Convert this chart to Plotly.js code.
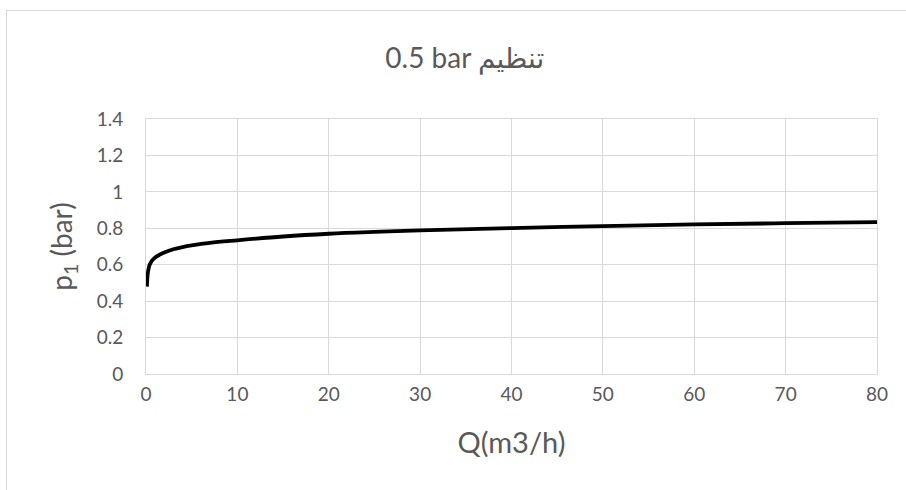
<!DOCTYPE html>
<html>
<head>
<meta charset="utf-8">
<script src="https://cdn.plot.ly/plotly-3.0.1.min.js"></script>
<style>
  html, body { margin: 0; padding: 0; background: #ffffff; }
  #frame { position: absolute; left: 6px; top: 10px; width: 1000px; height: 1000px;
           border-top: 1px solid #d9d9d9; border-left: 1px solid #d9d9d9; }
  #chart { position: absolute; left: 0; top: 0; width: 906px; height: 490px; }
</style>
</head>
<body>
<div id="frame"></div>
<div id="chart"></div>
<script>
const chartTitle = '0.5 bar تنظیم';
const xTitle = 'Q(m3/h)';
const yTitle = 'p<sub>1</sub> (bar)';

const flowQ = [0.1, 0.15, 0.25, 0.4, 0.7, 1, 1.5, 2, 3, 4, 5, 7, 10, 15, 20, 25, 30, 40, 50, 60, 70, 80];
const pressureP1 = [0.48, 0.53, 0.57, 0.60, 0.625, 0.64, 0.655, 0.667, 0.685, 0.697, 0.706, 0.72, 0.734, 0.755, 0.77, 0.78, 0.788, 0.801, 0.812, 0.821, 0.828, 0.834];

const xTicks = [0, 10, 20, 30, 40, 50, 60, 70, 80];
const yTicks = [0, 0.2, 0.4, 0.6, 0.8, 1, 1.2, 1.4];

const fontFam = 'Lato, "Open Sans", "DejaVu Sans", sans-serif';
const grey = '#595959';
const grid = '#d9d9d9';

Plotly.newPlot('chart', [{
  x: flowQ,
  y: pressureP1,
  type: 'scatter',
  mode: 'lines',
  line: { color: '#000000', width: 3.8, shape: 'spline', smoothing: 1 },
  hoverinfo: 'skip'
}], {
  width: 906,
  height: 490,
  paper_bgcolor: 'rgba(0,0,0,0)',
  plot_bgcolor: 'rgba(0,0,0,0)',
  margin: { l: 146, r: 29, t: 119, b: 115.5 },
  showlegend: false,
  title: {
    text: chartTitle,
    font: { family: fontFam, size: 28, color: grey },
    x: 0.513, xanchor: 'center',
    y: 0.882, yanchor: 'middle'
  },
  xaxis: {
    range: [0, 80],
    tickvals: xTicks,
    ticktext: xTicks.map(String),
    showgrid: true, gridcolor: grid, gridwidth: 1,
    zeroline: false,
    showline: true, linecolor: grid, linewidth: 1, mirror: true,
    ticks: '',
    ticklabelstandoff: 3,
    tickfont: { family: fontFam, size: 19, color: grey },
    title: { text: xTitle, font: { family: fontFam, size: 29, color: grey }, standoff: 28 },
    automargin: false,
    fixedrange: true
  },
  yaxis: {
    range: [0, 1.4],
    tickvals: yTicks,
    ticktext: yTicks.map(String),
    showgrid: true, gridcolor: grid, gridwidth: 1,
    zeroline: false,
    showline: true, linecolor: grid, linewidth: 1, mirror: true,
    ticks: '',
    ticklabelstandoff: 18,
    tickfont: { family: fontFam, size: 19, color: grey },
    title: { text: yTitle, font: { family: fontFam, size: 28, color: grey }, standoff: 15 },
    automargin: false,
    fixedrange: true
  }
}, { displayModeBar: false, staticPlot: true });
</script>
</body>
</html>
